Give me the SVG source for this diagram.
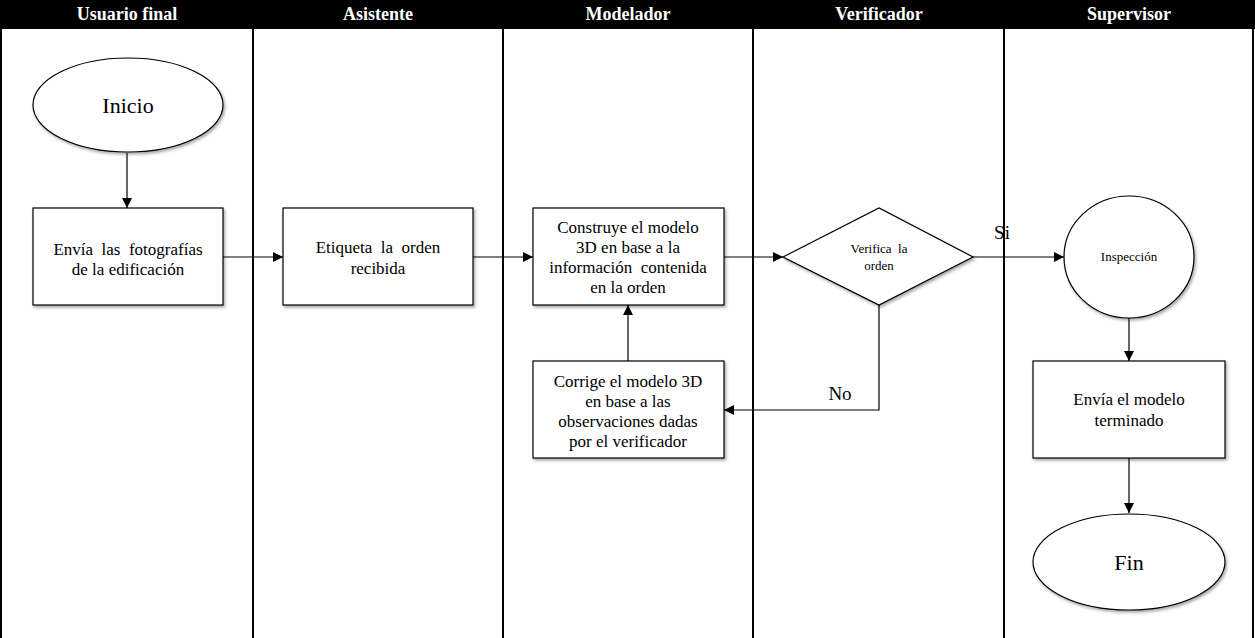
<svg xmlns="http://www.w3.org/2000/svg" width="1255" height="638" viewBox="0 0 1255 638">
<style>
.hdr{font-family:"Liberation Serif","Times New Roman",serif;font-weight:bold;font-size:18px;fill:#fff;text-anchor:middle}
.t{font-family:"Liberation Serif","Times New Roman",serif;font-size:17px;fill:#000;text-anchor:middle;white-space:pre}
.big{font-size:22px}
.sm{font-size:13px}
.lbl{font-size:19px}
.shape{fill:#fff;stroke:#000;stroke-width:1.2;filter:url(#sh)}
.lane{stroke:#000;stroke-width:2}
.conn{stroke:#000;stroke-width:1.2;fill:none}
</style>
<defs>
<filter id="sh" x="-10%" y="-10%" width="125%" height="125%">
<feDropShadow dx="1.5" dy="2" stdDeviation="1.5" flood-color="#000" flood-opacity="0.35"/>
</filter>
<marker id="ah" viewBox="0 0 10 10" refX="10" refY="5" markerWidth="10" markerHeight="10" markerUnits="userSpaceOnUse" orient="auto">
<path d="M0,0 L10,5 L0,10 z" fill="#000"/>
</marker>
</defs>
<rect width="1255" height="638" fill="#fff"/>
<g id="lanes">
<rect x="0" y="0" width="1255" height="29" fill="#000"/>
<line class="lane" x1="1" y1="0" x2="1" y2="638"/>
<line class="lane" x1="253" y1="0" x2="253" y2="638"/>
<line class="lane" x1="503" y1="0" x2="503" y2="638"/>
<line class="lane" x1="753" y1="0" x2="753" y2="638"/>
<line class="lane" x1="1004" y1="0" x2="1004" y2="638"/>
<line class="lane" x1="1253" y1="0" x2="1253" y2="638"/>
<text class="hdr" x="127" y="20">Usuario final</text>
<text class="hdr" x="378" y="20">Asistente</text>
<text class="hdr" x="628" y="20">Modelador</text>
<text class="hdr" x="879" y="20">Verificador</text>
<text class="hdr" x="1129" y="20">Supervisor</text>
</g>
<g id="connectors">
<line class="conn" x1="127" y1="153" x2="127" y2="208" marker-end="url(#ah)"/>
<line class="conn" x1="223" y1="257" x2="283" y2="257" marker-end="url(#ah)"/>
<line class="conn" x1="473" y1="257" x2="533" y2="257" marker-end="url(#ah)"/>
<line class="conn" x1="724" y1="257" x2="783" y2="257" marker-end="url(#ah)"/>
<line class="conn" x1="973" y1="257" x2="1064" y2="257" marker-end="url(#ah)"/>
<polyline class="conn" points="879,305 879,410 724,410" marker-end="url(#ah)"/>
<line class="conn" x1="628" y1="361" x2="628" y2="305" marker-end="url(#ah)"/>
<line class="conn" x1="1129" y1="318" x2="1129" y2="361" marker-end="url(#ah)"/>
<line class="conn" x1="1129" y1="458" x2="1129" y2="513" marker-end="url(#ah)"/>
<text class="t lbl" x="1002" y="239">Si</text>
<text class="t lbl" x="840" y="400">No</text>
</g>
<g id="inicio">
<ellipse class="shape" cx="128" cy="105" rx="95" ry="47"/>
<text class="t big" x="128" y="113">Inicio</text>
</g>
<g id="envia-fotos">
<rect class="shape" x="33" y="208" width="190" height="97"/>
<text class="t" x="128" y="255" xml:space="preserve">Envía  las  fotografías</text>
<text class="t" x="128" y="275">de la edificación</text>
</g>
<g id="etiqueta">
<rect class="shape" x="283" y="208" width="190" height="97"/>
<text class="t" x="378" y="253" xml:space="preserve">Etiqueta  la  orden</text>
<text class="t" x="378" y="274">recibida</text>
</g>
<g id="construye">
<rect class="shape" x="533" y="208" width="191" height="97"/>
<text class="t" x="628" y="233">Construye el modelo</text>
<text class="t" x="628" y="253">3D en base a la</text>
<text class="t" x="628" y="273" xml:space="preserve">información  contenida</text>
<text class="t" x="628" y="293">en la orden</text>
</g>
<g id="verifica">
<polygon class="shape" points="783,257 879,208 973,257 879,305"/>
<text class="t sm" x="879" y="253" xml:space="preserve">Verifica  la</text>
<text class="t sm" x="879" y="270">orden</text>
</g>
<g id="corrige">
<rect class="shape" x="533" y="361" width="191" height="97"/>
<text class="t" x="628" y="387">Corrige el modelo 3D</text>
<text class="t" x="628" y="407">en base a las</text>
<text class="t" x="628" y="427">observaciones dadas</text>
<text class="t" x="628" y="447">por el verificador</text>
</g>
<g id="inspeccion">
<ellipse class="shape" cx="1129" cy="257" rx="65" ry="61"/>
<text class="t sm" x="1129" y="261">Inspección</text>
</g>
<g id="envia-modelo">
<rect class="shape" x="1033" y="361" width="192" height="97"/>
<text class="t" x="1129" y="405">Envía el modelo</text>
<text class="t" x="1129" y="426">terminado</text>
</g>
<g id="fin">
<ellipse class="shape" cx="1129" cy="562" rx="96" ry="48"/>
<text class="t big" x="1129" y="570">Fin</text>
</g>
</svg>
